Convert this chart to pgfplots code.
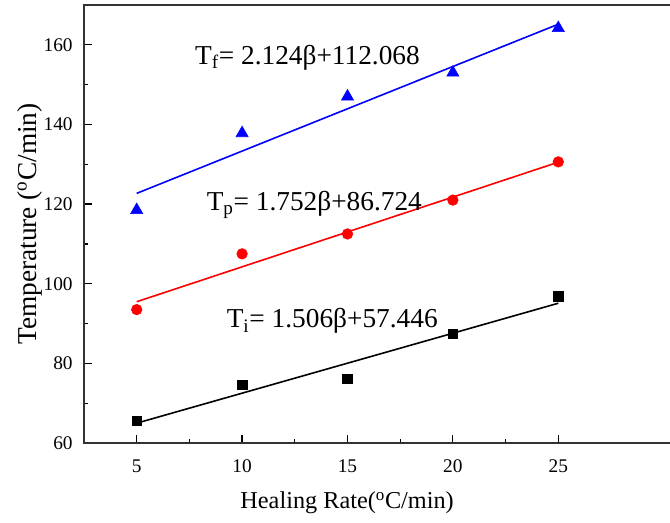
\documentclass[border=0pt]{standalone}
\usepackage{fontspec}
\setmainfont{Liberation Serif}
\usepackage{pgfplots}
\pgfplotsset{compat=1.18}

\begin{document}
\begin{tikzpicture}
\path[use as bounding box] (-63pt,-60pt) rectangle (439.5pt,332.25pt);
\begin{axis}[
    at={(0,0)}, anchor=south west,
    scale only axis,
    width=439.5pt, height=328.5pt,
    xmin=2.5, xmax=30.3,
    ymin=60, ymax=170,
    xtick={5,10,15,20,25},
    ytick={60,80,100,120,140,160},
    minor x tick num=1,
    minor y tick num=1,
    tick align=inside,
    xtick pos=bottom, ytick pos=left,
    major tick length=6pt, minor tick length=3pt,
    every tick/.style={black, line width=0.9pt},
    axis line style={draw=none},
    tick label style={font=\fontsize{14.5}{16}\selectfont},
    xticklabel style={yshift=-9pt},
    yticklabel style={xshift=-5pt},
    /pgf/number format/assume math mode=true,
    xlabel={Healing Rate(\textsuperscript{o}C/min)},
    ylabel={Temperature (\textsuperscript{o}C/min)},
    xlabel style={font=\fontsize{18.2}{20}\selectfont, at={(axis description cs:0.449,-0.137)}, anchor=center},
    ylabel style={font=\fontsize{20.5}{22}\selectfont, at={(axis description cs:-0.0922,0.5)}, anchor=center},
    clip=false,
]
% axis frame: left, bottom, top (right edge is cut off in the reference)
\draw[line width=1.1pt, black!80] (rel axis cs:1,0) -- (rel axis cs:0,0) -- (rel axis cs:0,1) -- (rel axis cs:1,1);

% T_i
\addplot[only marks, mark=square*, mark size=3.6pt, black] coordinates {
    (5,65.6) (10,74.6) (15,76.1) (20,87.4) (25,96.9)
};
\addplot[black, line width=1.2pt] coordinates {(5,64.98) (25,95.10)};

% T_p
\addplot[only marks, mark=*, mark size=4pt, red] coordinates {
    (5,93.5) (10,107.5) (15,112.5) (20,121.0) (25,130.6)
};
\addplot[red, line width=1.2pt] coordinates {(5,95.48) (25,130.52)};

% T_f
\addplot[only marks, mark=triangle*, mark size=5.3pt, blue] coordinates {
    (5,118.5) (10,137.8) (15,147.0) (20,153.0) (25,164.2)
};
\addplot[blue, line width=1.2pt] coordinates {(5,122.69) (25,165.17)};

\node[anchor=base west, font=\fontsize{20.5}{22}\selectfont] at (axis cs:7.55,155)
    {T\textsubscript{f}= 2.124β+112.068};
\node[anchor=base west, font=\fontsize{20.5}{22}\selectfont] at (axis cs:8.1,118.5)
    {T\textsubscript{p}= 1.752β+86.724};
\node[anchor=base west, font=\fontsize{20.5}{22}\selectfont] at (axis cs:9.05,88.9)
    {T\textsubscript{i}= 1.506β+57.446};
\end{axis}
\end{tikzpicture}
\end{document}
